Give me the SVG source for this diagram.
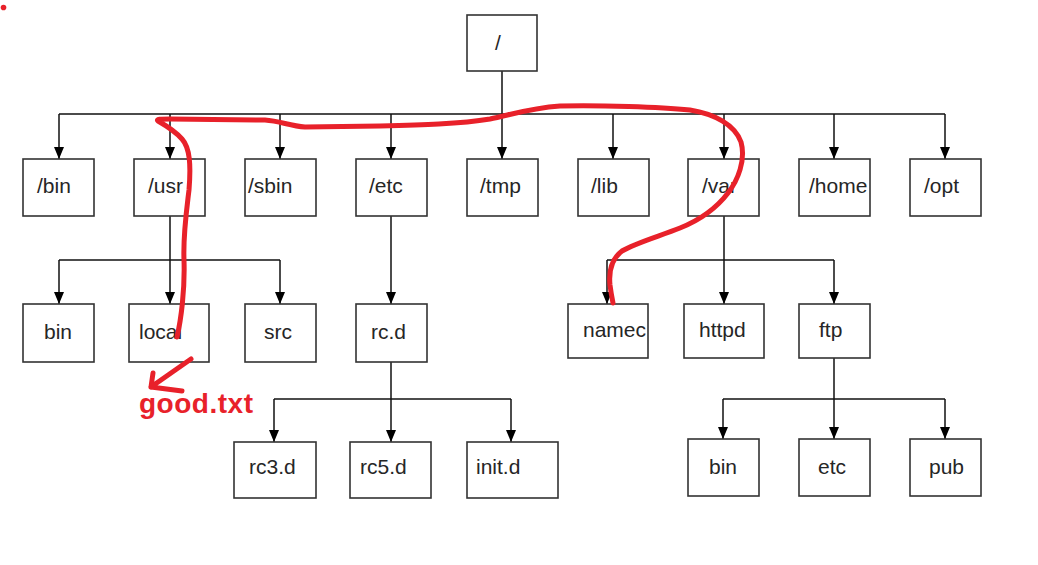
<svg xmlns="http://www.w3.org/2000/svg" width="1038" height="565" viewBox="0 0 1038 565">
<style>
.box{fill:#fff;stroke:#333;stroke-width:1.6}
.lbl{font-family:"Liberation Sans",Arial,sans-serif;font-size:21px;fill:#262626}
.ln{fill:none;stroke:#111;stroke-width:1.5}
.red{fill:none;stroke:#e8212a;stroke-width:5;stroke-linecap:round;stroke-linejoin:round}
</style>
<defs>
<marker id="ah" markerUnits="userSpaceOnUse" markerWidth="14" markerHeight="12" viewBox="0 -6 14 12" refX="12" refY="0" orient="auto">
<path d="M0,-5 L12,0 L0,5 z" fill="#000"/>
</marker>
<clipPath id="cHome"><rect x="799" y="159" width="71" height="57"/></clipPath>
<clipPath id="cNamed"><rect x="568" y="304" width="80" height="54"/></clipPath>
</defs>
<rect width="1038" height="565" fill="#fff"/>

<g id="connectors">
<path class="ln" d="M502,71 V114 M59,114 H945"/>
<path class="ln" marker-end="url(#ah)" d="M59,114 V159"/>
<path class="ln" marker-end="url(#ah)" d="M170,114 V159"/>
<path class="ln" marker-end="url(#ah)" d="M280,114 V159"/>
<path class="ln" marker-end="url(#ah)" d="M391,114 V159"/>
<path class="ln" marker-end="url(#ah)" d="M502,114 V159"/>
<path class="ln" marker-end="url(#ah)" d="M613,114 V159"/>
<path class="ln" marker-end="url(#ah)" d="M724,114 V159"/>
<path class="ln" marker-end="url(#ah)" d="M834,114 V159"/>
<path class="ln" marker-end="url(#ah)" d="M945,114 V159"/>

<path class="ln" d="M59,260 H280"/>
<path class="ln" marker-end="url(#ah)" d="M170,216 V304"/>
<path class="ln" marker-end="url(#ah)" d="M59,260 V304"/>
<path class="ln" marker-end="url(#ah)" d="M280,260 V304"/>

<path class="ln" marker-end="url(#ah)" d="M391,216 V304"/>

<path class="ln" d="M274,399 H511"/>
<path class="ln" marker-end="url(#ah)" d="M391,362 V442"/>
<path class="ln" marker-end="url(#ah)" d="M274,399 V442"/>
<path class="ln" marker-end="url(#ah)" d="M511,399 V442"/>

<path class="ln" d="M607,260 H834"/>
<path class="ln" marker-end="url(#ah)" d="M724,216 V304"/>
<path class="ln" marker-end="url(#ah)" d="M607,260 V304"/>
<path class="ln" marker-end="url(#ah)" d="M834,260 V304"/>

<path class="ln" d="M723,399 H945"/>
<path class="ln" marker-end="url(#ah)" d="M834,358 V439"/>
<path class="ln" marker-end="url(#ah)" d="M723,399 V439"/>
<path class="ln" marker-end="url(#ah)" d="M945,399 V439"/>
</g>

<g id="root"><rect class="box" x="467" y="15" width="70" height="56"/><text class="lbl" x="495" y="50">/</text></g>

<g id="n-bin"><rect class="box" x="23" y="159" width="71" height="57"/><text class="lbl" x="37" y="193">/bin</text></g>
<g id="n-usr"><rect class="box" x="134" y="159" width="71" height="57"/><text class="lbl" x="148" y="193">/usr</text></g>
<g id="n-sbin"><rect class="box" x="245" y="159" width="71" height="57"/><text class="lbl" x="248" y="193">/sbin</text></g>
<g id="n-etc"><rect class="box" x="356" y="159" width="71" height="57"/><text class="lbl" x="369" y="193">/etc</text></g>
<g id="n-tmp"><rect class="box" x="467" y="159" width="71" height="57"/><text class="lbl" x="480" y="193">/tmp</text></g>
<g id="n-lib"><rect class="box" x="578" y="159" width="71" height="57"/><text class="lbl" x="591" y="193">/lib</text></g>
<g id="n-var"><rect class="box" x="688" y="159" width="71" height="57"/><text class="lbl" x="702" y="193">/var</text></g>
<g id="n-home"><rect class="box" x="799" y="159" width="71" height="57"/><text class="lbl" x="809" y="193" clip-path="url(#cHome)">/home</text></g>
<g id="n-opt"><rect class="box" x="910" y="159" width="71" height="57"/><text class="lbl" x="924" y="193">/opt</text></g>

<g id="n-usr-bin"><rect class="box" x="23" y="304" width="71" height="58"/><text class="lbl" x="44" y="339">bin</text></g>
<g id="n-usr-local"><rect class="box" x="129" y="304" width="80" height="58"/><text class="lbl" x="139" y="339">local</text></g>
<g id="n-usr-src"><rect class="box" x="245" y="304" width="71" height="58"/><text class="lbl" x="264" y="339">src</text></g>
<g id="n-rcd"><rect class="box" x="356" y="304" width="71" height="58"/><text class="lbl" x="371" y="339">rc.d</text></g>

<g id="n-named"><rect class="box" x="568" y="304" width="80" height="54"/><text class="lbl" x="583" y="337" clip-path="url(#cNamed)">namec</text></g>
<g id="n-httpd"><rect class="box" x="684" y="304" width="80" height="54"/><text class="lbl" x="699" y="337">httpd</text></g>
<g id="n-ftp"><rect class="box" x="799" y="304" width="71" height="54"/><text class="lbl" x="819" y="337">ftp</text></g>

<g id="n-rc3d"><rect class="box" x="234" y="442" width="82" height="56"/><text class="lbl" x="249" y="474">rc3.d</text></g>
<g id="n-rc5d"><rect class="box" x="350" y="442" width="81" height="56"/><text class="lbl" x="360" y="474">rc5.d</text></g>
<g id="n-initd"><rect class="box" x="467" y="442" width="91" height="56"/><text class="lbl" x="476" y="474">init.d</text></g>

<g id="n-ftp-bin"><rect class="box" x="688" y="439" width="71" height="57"/><text class="lbl" x="709" y="474">bin</text></g>
<g id="n-ftp-etc"><rect class="box" x="799" y="439" width="71" height="57"/><text class="lbl" x="818" y="474">etc</text></g>
<g id="n-ftp-pub"><rect class="box" x="910" y="439" width="71" height="57"/><text class="lbl" x="929" y="474">pub</text></g>

<g id="annotation">
<circle cx="3.5" cy="7.5" r="2.8" fill="#e8212a"/>
<path class="red" d="M177,337 C181,320 185,290 184,260 C183,235 186,215 189,190 C191,165 190,148 182,139 C175,131 165,125 158,121 C156,119 160,119 170,119 L265,120 C280,121 290,126 305,127 L380,126 C420,125 460,124 490,119 C510,115 530,108 560,106 C600,105 660,107 690,110 C715,114 735,125 741,142 C746,160 738,180 728,193 C715,210 700,220 680,228 C660,236 635,243 622,251 C610,260 609,275 610,285 C611,293 612,298 613,303"/>
<path class="red" stroke-width="4.5" d="M191,359 L151,387 M153,373 L151,387 L182,391"/>
<text x="139" y="413" textLength="114" lengthAdjust="spacing" style="font-family:'Liberation Sans',Arial,sans-serif;font-weight:bold;font-size:28px;fill:#e8212a">good.txt</text>
</g>
</svg>
